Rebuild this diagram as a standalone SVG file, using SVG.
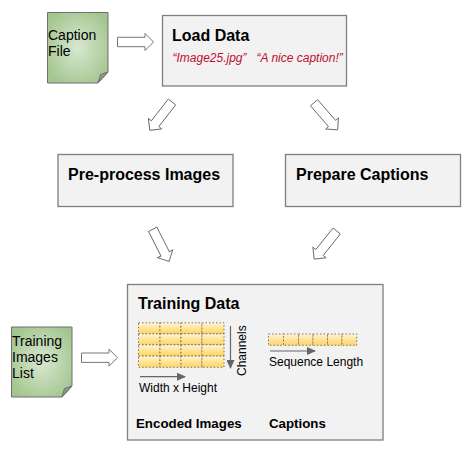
<svg xmlns="http://www.w3.org/2000/svg" width="471" height="452" viewBox="0 0 471 452">
<style>
text{font-family:"Liberation Sans",Arial,sans-serif;fill:#000}
.box{fill:#f2f2f2;stroke:#7f7f7f;stroke-width:1.3}
.note{fill:url(#ng);stroke:#6f6f6f;stroke-width:1}
.fold{fill:#8c9c80;stroke:#6f6f6f;stroke-width:1}
.t{font-size:16px;font-weight:bold}
.f{font-size:14px}
.s{font-size:12px}
.r{font-size:12px;font-style:italic;fill:#c00d2f}
.b{font-size:13.3px;font-weight:bold}
.block{fill:#fff;stroke:#666;stroke-width:0.9}
.cell{fill:url(#cg);stroke:#666;stroke-width:0.9;stroke-dasharray:1.5 2}
.ln{stroke:#666;stroke-width:1.2;fill:none;marker-end:url(#ah)}
</style>
<defs>
<radialGradient id="ng" cx="50%" cy="50%" r="60%"><stop offset="0" stop-color="#d8e8d0"/><stop offset="1" stop-color="#a3c58f"/></radialGradient>
<linearGradient id="cg" x1="0" y1="0" x2="0" y2="1"><stop offset="0" stop-color="#fff4d4"/><stop offset="1" stop-color="#ffd45e"/></linearGradient>
<marker id="ah" markerUnits="userSpaceOnUse" markerWidth="9" markerHeight="8" refX="8" refY="4" orient="auto"><path d="M0 0L9 4L0 8Z" fill="#666"/></marker>
<polygon id="arr" points="0,-4.700 27.500,-4.700 27.500,-8.500 36,0 27.500,8.500 27.500,4.700 0,4.700"/>
</defs>
<g id="connectors">
<use href="#arr" class="block" transform="translate(117.5,42)"/>
<use href="#arr" class="block" transform="translate(172,102) rotate(128)"/>
<use href="#arr" class="block" transform="translate(314,102.7) rotate(49)"/>
<use href="#arr" class="block" transform="translate(152.7,229.3) rotate(63)"/>
<use href="#arr" class="block" transform="translate(336.7,231) rotate(128.7)"/>
<use href="#arr" class="block" transform="translate(81.5,357.7)"/>
</g>
<g id="caption-file">
<path class="note" d="M47.500 12.500H108V72L98 83H47.500Z"/>
<path class="fold" d="M98 83L100.500 74.500L108 72Z"/>
<text class="f" x="48" y="40">Caption</text><text class="f" x="48" y="56">File</text>
</g>
<g id="load-data">
<rect class="box" x="162.500" y="15.500" width="184" height="70.500"/>
<text class="t" x="172" y="41">Load Data</text>
<text class="r" x="172.500" y="62">“Image25.jpg”</text><text class="r" x="256.500" y="62">“A nice caption!”</text>
</g>
<g id="preprocess">
<rect class="box" x="58" y="154.500" width="175" height="52"/>
<text class="t" x="68" y="180">Pre-process Images</text>
</g>
<g id="prepare">
<rect class="box" x="285.500" y="154.500" width="175" height="52"/>
<text class="t" x="296" y="180">Prepare Captions</text>
</g>
<g id="training-list">
<path class="note" d="M11.500 327H72V386L62 397H11.500Z"/>
<path class="fold" d="M62 397L64.500 388.500L72 386Z"/>
<text class="f" x="12" y="346">Training</text><text class="f" x="12" y="362">Images</text><text class="f" x="12" y="378">List</text>
</g>
<g id="training-data">
<rect class="box" x="127.500" y="284.500" width="255.500" height="155.500"/>
<text class="t" x="138" y="309">Training Data</text>
<g id="image-grid">
<rect class="cell" x="138.500" y="322.800" width="21.500" height="11"/><rect class="cell" x="160" y="322.800" width="21" height="11"/><rect class="cell" x="181" y="322.800" width="21" height="11"/><rect class="cell" x="202" y="322.800" width="22" height="11"/>
<rect class="cell" x="138.500" y="333.800" width="21.500" height="11"/><rect class="cell" x="160" y="333.800" width="21" height="11"/><rect class="cell" x="181" y="333.800" width="21" height="11"/><rect class="cell" x="202" y="333.800" width="22" height="11"/>
<rect class="cell" x="138.500" y="344.800" width="21.500" height="11.300"/><rect class="cell" x="160" y="344.800" width="21" height="11.300"/><rect class="cell" x="181" y="344.800" width="21" height="11.300"/><rect class="cell" x="202" y="344.800" width="22" height="11.300"/>
<rect class="cell" x="138.500" y="356.100" width="21.500" height="11.200"/><rect class="cell" x="160" y="356.100" width="21" height="11.200"/><rect class="cell" x="181" y="356.100" width="21" height="11.200"/><rect class="cell" x="202" y="356.100" width="22" height="11.200"/>
</g>
<g id="caption-grid">
<rect class="cell" x="268.500" y="334" width="15" height="11.300"/><rect class="cell" x="283.500" y="334" width="15" height="11.300"/><rect class="cell" x="298.500" y="334" width="14.500" height="11.300"/><rect class="cell" x="313" y="334" width="14.500" height="11.300"/><rect class="cell" x="327.500" y="334" width="14.500" height="11.300"/><rect class="cell" x="342" y="334" width="14.700" height="11.300"/>
</g>
<path class="ln" d="M140 376.700H185"/>
<path class="ln" d="M230.500 326V368"/>
<path class="ln" d="M270 351H315"/>
<text class="s" x="139" y="392">Width x Height</text>
<text class="s" transform="translate(246,376) rotate(-90)">Channels</text>
<text class="s" x="269" y="366">Sequence Length</text>
<text class="b" x="136" y="428">Encoded Images</text>
<text class="b" x="269" y="428">Captions</text>
</g>
</svg>
